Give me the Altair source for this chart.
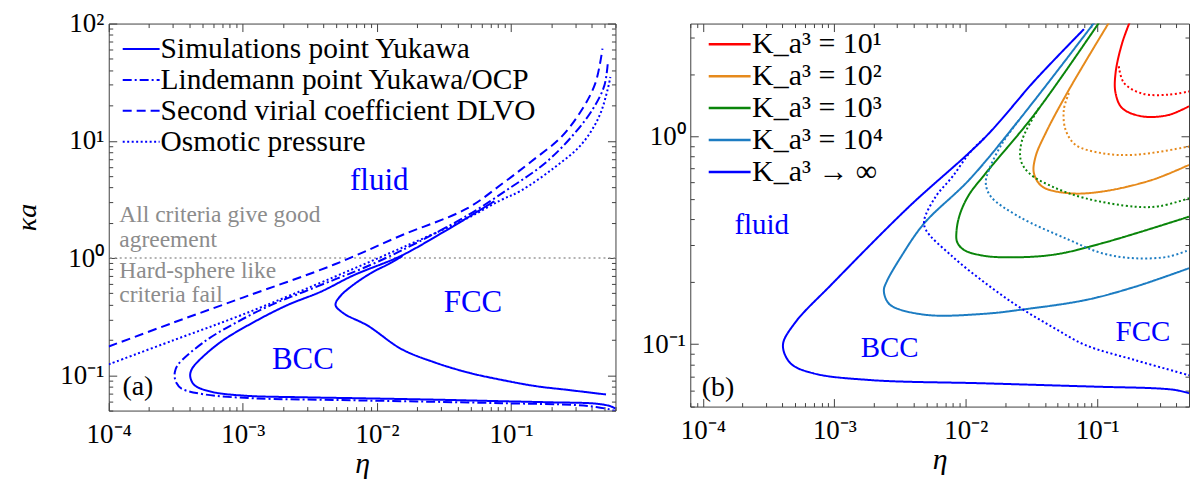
import altair as alt
import pandas as pd
import numpy as np

FONT = "Liberation Serif"
AXIS_COLOR = "#404040"
BLUE = "#0000FF"

# ======================= Panel (a) data =======================
A_SERIES = ["Simulations point Yukawa", "Lindemann point Yukawa/OCP",
            "Second virial coefficient DLVO", "Osmotic pressure"]

# Simulations: fluid boundary (upper branch -> nose -> lower branch)
sim_outer_eta = [0.075, 0.047, 0.03, 0.015, 6.75e-3, 3.81e-3, 2.15e-3, 1.22e-3, 6.89e-4,
                 4.61e-4, 4.15e-4, 4.05e-4, 4.35e-4, 5.81e-4, 1.03e-3, 2.86e-3, 8.0e-3,
                 0.03, 0.085, 0.2, 0.43, 0.55, 0.6]
sim_outer_ka = [3.05, 2.2, 1.62, 1.04, 0.716, 0.516, 0.397, 0.286, 0.1936,
                0.1306, 0.112, 0.098, 0.0826, 0.0724, 0.067, 0.0649, 0.0636,
                0.0618, 0.0601, 0.0588, 0.0573, 0.0545, 0.052]
# Simulations: BCC / FCC boundary
sim_inner_eta = [0.0155, 0.012, 9.3e-3, 6.65e-3, 5.43e-3, 4.95e-3, 4.93e-3, 5.69e-3, 8.53e-3,
                 0.0152, 0.027, 0.048, 0.0855, 0.152, 0.271, 0.51]
sim_inner_ka = [1.04, 0.88, 0.76, 0.59, 0.485, 0.42, 0.39, 0.335, 0.265,
                0.1675, 0.1286, 0.1054, 0.0912, 0.0809, 0.0748, 0.0686]
# Lindemann
lind_eta = [0.525, 0.495, 0.404, 0.282, 0.177, 0.099, 0.047, 0.015, 8e-3, 5.07e-3, 2.86e-3,
            1.62e-3, 9.14e-4, 5.18e-4, 3.27e-4, 3.12e-4, 3.1e-4, 3.2e-4, 3.47e-4, 5.18e-4,
            1.22e-3, 5.07e-3, 0.02, 0.085, 0.3, 0.43, 0.55, 0.6]
lind_ka = [45, 29.4, 18.4, 10.8, 6.37, 3.99, 2.3, 1.15, 0.826, 0.67, 0.516,
           0.397, 0.286, 0.194, 0.1225, 0.108, 0.097, 0.086, 0.0772, 0.0687,
           0.0636, 0.0615, 0.0598, 0.0578, 0.0558, 0.0537, 0.051, 0.0495]
# Second virial coefficient
vir_eta = [1e-4, 3e-4, 1e-3, 4.8e-3, 0.015, 0.047, 0.088, 0.14, 0.237, 0.337, 0.425, 0.48]
vir_ka = [0.176, 0.28, 0.46, 0.88, 1.55, 2.65, 4.4, 6.6, 10.8, 18.4, 31, 61]
# Osmotic pressure
osm_eta = [1e-4, 3e-4, 1e-3, 4.8e-3, 0.015, 0.047, 0.083, 0.118, 0.21, 0.337, 0.452, 0.523, 0.55]
osm_ka = [0.124, 0.198, 0.33, 0.69, 1.21, 2.18, 3.1, 3.75, 5.9, 9.4, 16, 27, 35]

hline_ka = [1.0]

ann_a_text = ["fluid", "BCC", "FCC"]
ann_a_eta = [0.0104, 0.0028, 0.052]
ann_a_ka = [4.5, 0.135, 0.41]
tag_a_text = ["(a)"]
tag_a_eta = [1.65e-4]
tag_a_ka = [0.079]
note_text = ["All criteria give good", "agreement", "Hard-sphere like", "criteria fail"]
note_eta = [1.2e-4, 1.2e-4, 1.2e-4, 1.2e-4]
note_ka = [2.35, 1.42, 0.78, 0.48]

xa_major = [1e-4, 1e-3, 1e-2, 1e-1]
xa_labels = ["10⁻⁴", "10⁻³", "10⁻²", "10⁻¹"]
ya_major = [0.1, 1, 10, 100]
ya_labels = ["10⁻¹", "10⁰", "10¹", "10²"]

# ======================= Panel (b) data =======================
B_K = ["K_a³ = 10¹", "K_a³ = 10²", "K_a³ = 10³", "K_a³ = 10⁴", "K_a³ → ∞"]
B_COLORS = ["#FF0000", "#E68A1C", "#0A850A", "#1C7CC2", "#0000FF"]

inf_s_eta = [0.0793, 0.034, 0.0138, 3.67e-3, 9.68e-4, 4.97e-4, 4.06e-4, 4.65e-4, 6.93e-4,
             1.88e-3, 0.014, 0.1033, 0.281, 0.4, 0.5]
inf_s_ka = [3.29, 1.88, 0.98, 0.457, 0.196, 0.1257, 0.0989, 0.0807, 0.0723,
            0.0671, 0.0647, 0.0623, 0.0612, 0.06, 0.058]
inf_d_eta = [0.0138, 0.0109, 7.92e-3, 5.91e-3, 4.83e-3, 4.97e-3, 7.92e-3, 0.0142, 0.0254,
             0.0455, 0.0815, 0.195, 0.5]
inf_d_ka = [0.98, 0.847, 0.641, 0.514, 0.396, 0.355, 0.264, 0.196, 0.151,
            0.121, 0.0989, 0.0837, 0.0708]
k4_s_eta = [0.102, 0.0254, 0.0106, 4.83e-3, 3.21e-3, 2.5e-3, 2.38e-3, 2.5e-3, 2.81e-3,
            5.13e-3, 0.014, 0.0254, 0.0815, 0.195, 0.5]
k4_s_ka = [3.75, 1.2, 0.618, 0.382, 0.263, 0.2, 0.182, 0.162, 0.151,
           0.138, 0.140, 0.146, 0.163, 0.189, 0.232]
k4_d_eta = [0.0254, 0.019, 0.015, 0.0142, 0.0155, 0.0254, 0.061, 0.109, 0.195, 0.35, 0.5]
k4_d_ka = [1.2, 0.929, 0.69, 0.596, 0.514, 0.411, 0.318, 0.274, 0.259, 0.264, 0.284]
k3_s_eta = [0.11, 0.034, 0.0142, 0.0105, 9.0e-3, 8.5e-3, 8.6e-3, 9.7e-3, 0.013, 0.019,
            0.0455, 0.109, 0.5]
k3_s_ka = [3.75, 1.30, 0.666, 0.52, 0.42, 0.35, 0.31, 0.284, 0.268, 0.262,
           0.269, 0.306, 0.411]
k3_d_eta = [0.036, 0.0269, 0.0262, 0.0303, 0.0455, 0.0815, 0.195, 0.3, 0.5]
k3_d_ka = [1.37, 0.964, 0.771, 0.666, 0.574, 0.504, 0.459, 0.462, 0.504]
k2_s_eta = [0.13, 0.061, 0.0406, 0.034, 0.033, 0.0382, 0.061, 0.109, 0.262, 0.5]
k2_s_ka = [3.75, 1.68, 1.04, 0.801, 0.666, 0.574, 0.533, 0.543, 0.618, 0.730]
k2_d_eta = [0.061, 0.0558, 0.0574, 0.0684, 0.109, 0.195, 0.5]
k2_d_ka = [1.62, 1.35, 1.08, 0.912, 0.831, 0.816, 0.895]
k1_s_eta = [0.183, 0.155, 0.138, 0.138, 0.155, 0.22, 0.35, 0.5]
k1_s_ka = [3.75, 2.82, 2.02, 1.62, 1.37, 1.25, 1.27, 1.40]
k1_d_eta = [0.146, 0.16, 0.22, 0.35, 0.5]
k1_d_ka = [2.18, 1.81, 1.61, 1.59, 1.65]

ann_b_text = ["fluid", "BCC", "FCC"]
ann_b_eta = [2.8e-4, 2.63e-3, 0.223]
ann_b_ka = [0.373, 0.0953, 0.1146]
tag_b_text = ["(b)"]
tag_b_eta = [1.3e-4]
tag_b_ka = [0.0612]

xb_major = [1e-4, 1e-3, 1e-2, 1e-1]
xb_labels = ["10⁻⁴", "10⁻³", "10⁻²", "10⁻¹"]
yb_major = [0.1, 1]
yb_labels = ["10⁻¹", "10⁰"]


# ======================= helpers =======================
def path_df(eta, ka, **cols):
    d = pd.DataFrame({"eta": eta, "ka": ka, "i": list(range(len(eta)))})
    for k, v in cols.items():
        d[k] = v
    return d


def minor_ticks(lo, hi):
    out = []
    for e in range(int(np.floor(np.log10(lo))) - 1, int(np.ceil(np.log10(hi))) + 1):
        for m in range(2, 10):
            v = float(f"{m}e{e}")
            if lo * 0.999 <= v <= hi * 1.001:
                out.append(v)
    return out


def label_expr(vals, labs):
    parts = [f"abs(datum.value/{v} - 1) < 0.001 ? '{l}'" for v, l in zip(vals, labs)]
    return " : ".join(parts) + " : ''"


def label_axis(orient, vals, labs, title, pad, tpad, tsize=30):
    kw = dict(orient=orient, values=vals, labelExpr=label_expr(vals, labs), ticks=False,
              domain=False, grid=False, labelFont=FONT, labelFontSize=27,
              labelColor="black", labelPadding=pad, labelFlush=False, labelOverlap=False)
    if title:
        kw.update(title=title, titleFont=FONT, titleFontSize=tsize, titleFontStyle="italic",
                  titleFontWeight="normal", titleColor="black", titlePadding=tpad)
    else:
        kw.update(title=None)
    return alt.Axis(**kw)


def tick_axis(orient, vals, size):
    return alt.Axis(orient=orient, values=vals, labels=False, domain=False, grid=False,
                    ticks=True, tickSize=size, offset=-size, tickColor=AXIS_COLOR,
                    tickWidth=1, title=None)


def tick_layers(df, xs, ys, xmaj, xmin, ymaj, ymin):
    layers = []
    specs = [("bottom", "left", xmaj, ymaj, 8), ("bottom", "left", xmin, ymin, 4),
             ("top", "right", xmaj, ymaj, 8), ("top", "right", xmin, ymin, 4)]
    for xo, yo, xv, yv, s in specs:
        layers.append(
            alt.Chart(df).mark_point(opacity=0, clip=True).encode(
                x=alt.X("eta:Q", scale=xs, axis=tick_axis(xo, xv, s)),
                y=alt.Y("ka:Q", scale=ys, axis=tick_axis(yo, yv, s)),
            )
        )
    return layers


def text_layer(eta, ka, txt, xs, ys, color, size, align="center"):
    d = pd.DataFrame({"eta": eta, "ka": ka, "t": txt})
    return alt.Chart(d).mark_text(color=color, fontSize=size, font=FONT, align=align,
                                  baseline="middle").encode(
        x=alt.X("eta:Q", scale=xs, axis=None),
        y=alt.Y("ka:Q", scale=ys, axis=None),
        text="t:N",
    )


# ======================= Panel (a) =======================
XA_DOM = [1e-4, 0.6]
YA_DOM = [0.05, 100]
xs_a = alt.Scale(type="log", domain=XA_DOM, nice=False)
ys_a = alt.Scale(type="log", domain=YA_DOM, nice=False)

df_a = pd.concat([
    path_df(sim_outer_eta, sim_outer_ka, series=A_SERIES[0], seg="sim_outer"),
    path_df(sim_inner_eta, sim_inner_ka, series=A_SERIES[0], seg="sim_inner"),
    path_df(lind_eta, lind_ka, series=A_SERIES[1], seg="lind"),
    path_df(vir_eta, vir_ka, series=A_SERIES[2], seg="vir"),
    path_df(osm_eta, osm_ka, series=A_SERIES[3], seg="osm"),
], ignore_index=True)

lines_a = alt.Chart(df_a).mark_line(color=BLUE, strokeWidth=2, clip=True,
                                    interpolate="catmull-rom").encode(
    x=alt.X("eta:Q", scale=xs_a, axis=label_axis("bottom", xa_major, xa_labels, "η", 11, 1)),
    y=alt.Y("ka:Q", scale=ys_a, axis=label_axis("left", ya_major, ya_labels, "κa", 5, 18, 28)),
    strokeDash=alt.StrokeDash(
        "series:N",
        scale=alt.Scale(domain=A_SERIES, range=[[1, 0], [9, 3, 2, 3], [9, 5], [2, 2.5]]),
        legend=alt.Legend(title=None, orient="none", legendX=13, legendY=10,
                          symbolType="stroke", symbolStrokeColor=BLUE, symbolStrokeWidth=2,
                          symbolSize=1369, labelFont=FONT, labelFontSize=29.5, labelLimit=800,
                          labelColor="black", labelOffset=0, rowPadding=0, clipHeight=31,
                          padding=0),
    ),
    detail="seg:N",
    order="i:Q",
)

hline = alt.Chart(pd.DataFrame({"ka": hline_ka})).mark_rule(
    color="#9a9a9a", strokeDash=[2, 3], strokeWidth=1.5).encode(
    y=alt.Y("ka:Q", scale=ys_a, axis=None))

panel_a = alt.layer(
    hline,
    lines_a,
    text_layer(note_eta, note_ka, note_text, xs_a, ys_a, "#8c8c8c", 23.5, align="left"),
    text_layer(ann_a_eta, ann_a_ka, ann_a_text, xs_a, ys_a, BLUE, 31),
    text_layer(tag_a_eta, tag_a_ka, tag_a_text, xs_a, ys_a, "black", 28),
    *tick_layers(df_a, xs_a, ys_a, xa_major, minor_ticks(*XA_DOM), ya_major, minor_ticks(*YA_DOM)),
).resolve_axis(x="independent", y="independent").properties(width=508, height=388)

# ======================= Panel (b) =======================
XB_DOM = [8e-5, 0.5]
YB_DOM = [0.05, 3.5]
xs_b = alt.Scale(type="log", domain=XB_DOM, nice=False)
ys_b = alt.Scale(type="log", domain=YB_DOM, nice=False)

df_b = pd.concat([
    path_df(k1_s_eta, k1_s_ka, K=B_K[0], kind="solid", curve="k1s"),
    path_df(k1_d_eta, k1_d_ka, K=B_K[0], kind="dotted", curve="k1d"),
    path_df(k2_s_eta, k2_s_ka, K=B_K[1], kind="solid", curve="k2s"),
    path_df(k2_d_eta, k2_d_ka, K=B_K[1], kind="dotted", curve="k2d"),
    path_df(k3_s_eta, k3_s_ka, K=B_K[2], kind="solid", curve="k3s"),
    path_df(k3_d_eta, k3_d_ka, K=B_K[2], kind="dotted", curve="k3d"),
    path_df(k4_s_eta, k4_s_ka, K=B_K[3], kind="solid", curve="k4s"),
    path_df(k4_d_eta, k4_d_ka, K=B_K[3], kind="dotted", curve="k4d"),
    path_df(inf_s_eta, inf_s_ka, K=B_K[4], kind="solid", curve="infs"),
    path_df(inf_d_eta, inf_d_ka, K=B_K[4], kind="dotted", curve="infd"),
], ignore_index=True)

lines_b = alt.Chart(df_b).mark_line(strokeWidth=2, clip=True, interpolate="catmull-rom").encode(
    x=alt.X("eta:Q", scale=xs_b, axis=label_axis("bottom", xb_major, xb_labels, "η", 11, 1)),
    y=alt.Y("ka:Q", scale=ys_b, axis=label_axis("left", yb_major, yb_labels, None, 5, 0)),
    color=alt.Color(
        "K:N", scale=alt.Scale(domain=B_K, range=B_COLORS),
        legend=alt.Legend(title=None, orient="none", legendX=17, legendY=5,
                          symbolType="stroke", symbolStrokeWidth=2.5, symbolSize=1764,
                          labelFont=FONT, labelFontSize=30, labelColor="black", labelLimit=800,
                          labelOffset=0, rowPadding=0, clipHeight=31.5, padding=0),
    ),
    strokeDash=alt.StrokeDash("kind:N", scale=alt.Scale(domain=["solid", "dotted"],
                                                       range=[[1, 0], [2, 2.5]]), legend=None),
    detail="curve:N",
    order="i:Q",
)

panel_b = alt.layer(
    lines_b,
    text_layer(ann_b_eta, ann_b_ka, ann_b_text, xs_b, ys_b, BLUE, 29),
    text_layer(tag_b_eta, tag_b_ka, tag_b_text, xs_b, ys_b, "black", 28),
    *tick_layers(df_b, xs_b, ys_b, xb_major, minor_ticks(*XB_DOM), yb_major, minor_ticks(*YB_DOM)),
).resolve_axis(x="independent", y="independent").properties(width=500, height=384)

chart = alt.hconcat(panel_a, panel_b, spacing=75, bounds="flush").resolve_scale(
    color="independent", strokeDash="independent"
).resolve_legend(
    color="independent", strokeDash="independent"
).properties(
    padding={"left": 5, "top": 0, "right": 0, "bottom": 0}
).configure(font=FONT).configure_view(stroke=AXIS_COLOR, strokeWidth=1)

chart.save("out.html", embed_options={"renderer": "svg", "actions": False})
